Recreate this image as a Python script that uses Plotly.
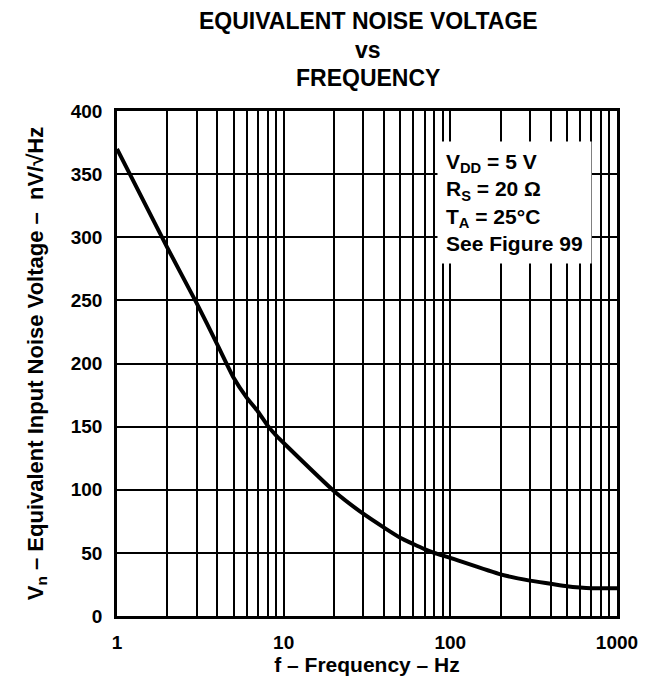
import plotly.graph_objects as go

freq_hz = [1, 2, 3, 4, 5, 6, 7, 8, 9, 10, 20, 30, 40, 50, 60, 70, 80, 100,
           200, 300, 400, 500, 600, 700, 800, 1000]
noise_nv = [370, 292, 248, 215, 189, 173, 162, 151, 143, 137, 99, 81, 70, 62,
            57, 53, 50, 46, 33, 28, 25.5, 23.5, 22.5, 22, 22, 22]

x_grid = [m * d for d in (1, 10, 100) for m in range(1, 10)] + [1000]
x_labels = ["1", "10", "100", "1000"]
x_ticktext = [str(v) if str(v) in x_labels else "" for v in x_grid]
y_ticks = [0, 50, 100, 150, 200, 250, 300, 350, 400]
title_lines = ["EQUIVALENT NOISE VOLTAGE", "vs", "FREQUENCY"]

FONT = "Liberation Sans"

fig = go.Figure()
fig.add_trace(go.Scatter(x=freq_hz, y=noise_nv, mode="lines",
                         line=dict(color="black", width=4, shape="spline", smoothing=0.5),
                         showlegend=False, hoverinfo="skip"))

fig.update_layout(
    width=646, height=673,
    margin=dict(l=109, r=37, t=103, b=65),
    paper_bgcolor="white", plot_bgcolor="white",
    font=dict(family=FONT, color="black", size=19, weight="bold"),
    xaxis=dict(type="log", range=[0, 3], tickvals=x_grid, ticktext=x_ticktext,
               showgrid=True, gridcolor="black", gridwidth=1.8,
               showline=True, linecolor="black", linewidth=2.5, mirror=True,
               ticks="", ticklen=0, ticklabelstandoff=7,
               tickfont=dict(family=FONT, size=19, weight="bold"),
               title=dict(text="f – Frequency – Hz", standoff=3,
                          font=dict(family=FONT, size=21, weight="bold"))),
    yaxis=dict(range=[0, 400], tickvals=y_ticks,
               showgrid=True, gridcolor="black", gridwidth=1.8,
               showline=True, linecolor="black", linewidth=2.5, mirror=True,
               ticks="", zeroline=False, ticklabelstandoff=8,
               tickfont=dict(family=FONT, size=19, weight="bold"),
               title=dict(text="V<sub>n</sub> – Equivalent Input Noise Voltage –  nV/√Hz",
                          standoff=22,
                          font=dict(family=FONT, size=22, weight="bold"))),
)

for line_text, ypos in zip(title_lines, [1.178, 1.121, 1.065]):
    fig.add_annotation(text=line_text, xref="paper", yref="paper", x=0.502, y=ypos,
                       xanchor="center", yanchor="middle", showarrow=False,
                       font=dict(family=FONT, size=23, weight="bold", color="black"))

fig.add_annotation(
    text="V<sub>DD</sub> = 5 V<br>R<sub>S</sub> = 20 Ω<br>T<sub>A</sub> = 25°C<br>See Figure 99",
    xref="paper", yref="paper", x=0.64, y=0.94, xanchor="left", yanchor="top",
    align="left", showarrow=False, bgcolor="white", borderpad=8,
    font=dict(family=FONT, size=21, weight="bold", color="black"),
)

fig.write_html("out.html")
